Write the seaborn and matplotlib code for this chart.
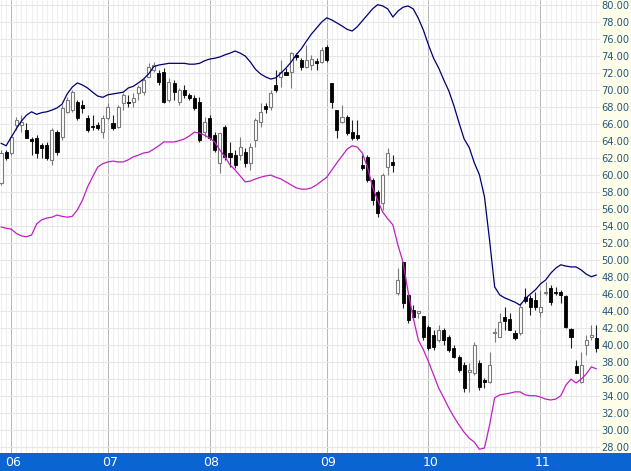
import numpy as np
import pandas as pd
from matplotlib import pyplot as plt
from matplotlib.patches import Rectangle
import matplotlib.transforms as mtransforms
import seaborn as sns

# daily candles, one row per session (open, high, low, close)
opens = [59.02, 62.67, 62.55, 65.85, 65.85, 65.25, 64.2, 64.3, 63.49, 63.49,
         61.7, 65.02, 64.43, 67.37, 67.61, 68.55, 68.2, 66.67, 65.73, 65.84,
         65.02, 66.67, 66.08, 65.61, 68.43, 68.55, 68.55, 69.61, 69.73, 71.49,
         72.31, 71.96, 72.08, 68.78, 70.79, 68.55, 69.96, 69.37, 69.02, 68.55,
         65.02, 66.67, 64.67, 61.37, 65.61, 62.55, 62.31, 62.31, 62.67, 61.37,
         64.08, 66.2, 68.08, 67.96, 70.55, 71.49, 72.08, 72.08, 74.08, 73.49,
         72.67, 72.9, 73.37, 73.26, 75.02, 70.79, 67.61, 66.2, 66.78, 65.02,
         64.67, 61.14, 62.08, 59.37, 57.96, 56.67, 60.9, 61.49, 46.08, 49.73,
         45.84, 44.08, 43.73, 43.37, 42.08, 41.14, 40.55, 41.73, 40.9, 39.61,
         38.55, 37.61, 36.84, 36.67, 37.84, 35.84, 35.61, 41.37, 40.9, 43.26,
         43.02, 41.37, 41.37, 45.61, 45.49, 45.26, 43.84, 46.08, 46.67, 46.2,
         46.2, 45.73, 41.84, 37.49, 35.61, 39.96, 40.9, 40.79]
highs = [62.9, 62.9, 64.67, 66.8, 67.0, 66.1, 64.4, 64.67, 63.73, 63.85,
         65.49, 65.25, 68.2, 69.14, 69.96, 68.78, 68.78, 67.02, 67.02, 66.2,
         67.02, 68.43, 67.02, 68.2, 69.61, 69.37, 69.61, 70.55, 71.37, 73.14,
         73.26, 72.31, 72.55, 71.37, 71.14, 70.2, 70.55, 69.61, 69.37, 69.14,
         66.78, 67.02, 65.02, 64.9, 65.84, 63.85, 62.9, 64.43, 63.14, 63.73,
         66.67, 68.43, 68.43, 69.96, 72.31, 73.49, 72.55, 74.43, 74.31, 73.73,
         75.26, 74.08, 73.73, 75.02, 75.26, 70.79, 67.61, 68.2, 67.02, 66.43,
         66.43, 62.31, 62.31, 59.61, 58.2, 60.2, 63.14, 62.31, 49.02, 49.73,
         46.2, 44.67, 43.96, 43.37, 42.31, 41.73, 42.31, 41.96, 41.14, 39.96,
         38.78, 37.96, 37.84, 40.31, 38.2, 36.08, 39.14, 41.96, 43.73, 44.43,
         43.73, 41.73, 44.9, 46.67, 45.84, 46.2, 46.43, 47.37, 47.02, 46.78,
         46.43, 45.84, 41.96, 38.2, 39.14, 41.14, 42.31, 42.31]
lows = [58.8, 61.7, 62.3, 65.25, 65.0, 64.3, 62.3, 61.96, 61.96, 61.7,
        61.14, 62.3, 64.08, 67.25, 67.37, 66.43, 67.25, 65.02, 65.25, 65.25,
        64.3, 66.43, 65.25, 65.49, 67.61, 67.96, 67.96, 68.78, 69.37, 71.49,
        72.08, 70.55, 68.43, 68.55, 68.78, 68.2, 69.02, 68.78, 67.61, 63.85,
        64.43, 64.08, 62.67, 60.2, 61.73, 60.9, 60.78, 61.73, 60.9, 60.55,
        63.26, 65.61, 67.25, 67.61, 69.73, 70.32, 71.73, 70.2, 73.49, 72.31,
        72.55, 72.31, 72.31, 73.14, 73.26, 67.84, 64.3, 66.08, 64.67, 64.08,
        64.08, 60.55, 59.14, 56.43, 55.02, 55.84, 59.96, 60.31, 45.84, 44.31,
        42.55, 42.9, 43.14, 40.55, 39.37, 39.37, 40.31, 39.96, 39.14, 38.43,
        36.78, 34.43, 34.43, 36.43, 34.67, 34.9, 35.49, 40.31, 40.9, 41.73,
        41.73, 40.55, 41.14, 44.9, 43.49, 44.08, 43.26, 45.84, 44.67, 45.84,
        44.9, 41.96, 39.61, 36.67, 35.49, 38.78, 40.55, 39.14]
closes = [62.55, 61.96, 64.43, 66.43, 66.2, 64.3, 63.96, 62.55, 63.14, 61.96,
          65.25, 62.67, 67.84, 68.78, 69.73, 66.67, 67.84, 65.25, 65.61, 65.49,
          66.67, 67.96, 65.49, 67.96, 69.37, 68.43, 69.02, 70.32, 71.14, 72.67,
          72.9, 70.9, 68.55, 70.9, 69.73, 69.96, 69.37, 69.02, 67.84, 64.08,
          66.2, 64.3, 62.9, 64.9, 62.08, 62.08, 61.14, 63.26, 61.37, 63.26,
          66.43, 67.37, 67.73, 69.61, 69.96, 72.08, 71.73, 74.31, 73.84, 72.67,
          73.49, 73.61, 73.14, 74.67, 73.49, 68.55, 65.25, 66.78, 64.9, 64.3,
          64.3, 60.78, 59.37, 57.02, 55.49, 59.96, 62.55, 61.14, 47.61, 44.9,
          42.9, 43.26, 43.96, 40.9, 39.61, 39.73, 41.73, 40.55, 39.37, 38.55,
          37.02, 34.9, 37.08, 39.96, 35.02, 35.61, 37.61, 41.49, 42.67, 42.78,
          41.73, 40.78, 44.43, 45.14, 44.43, 44.43, 44.43, 46.2, 45.02, 46.08,
          45.84, 42.08, 40.9, 36.67, 37.61, 40.55, 41.14, 39.61]

# envelope bands
upper_band = [63.7, 63.4, 64.4, 65.4, 66.3, 67.0, 67.4, 67.1, 67.3, 67.4,
              67.6, 67.85, 68.3, 69.5, 70.3, 70.8, 70.55, 70.2, 69.7, 69.25,
              69.1, 69.4, 69.5, 69.6, 69.7, 70.2, 70.4, 70.8, 71.25, 71.85,
              72.7, 72.9, 73.0, 73.1, 73.1, 73.1, 73.1, 73.0, 73.0, 73.1,
              73.4, 73.6, 73.7, 73.85, 74.1, 74.3, 74.55, 74.3, 73.95, 73.25,
              72.4, 71.85, 71.5, 71.25, 71.4, 71.95, 72.55, 73.25, 74.1, 74.8,
              75.7, 76.55, 77.25, 77.95, 78.45, 78.2, 77.85, 77.5, 77.1, 76.9,
              77.4, 78.1, 78.8, 79.5, 80.0, 79.85, 79.5, 78.55, 79.25, 79.7,
              79.85, 79.5, 78.4, 77.0, 75.25, 73.7, 72.55, 71.15, 69.85, 68.1,
              66.1, 64.2, 63.2, 61.4, 60.0, 57.4, 52.3, 46.8, 45.85, 45.5,
              45.25, 45.0, 44.65, 45.4, 45.95, 46.45, 47.15, 47.6, 48.4, 49.0,
              49.4, 49.25, 49.15, 49.15, 48.8, 48.3, 48.0, 48.2]
lower_band = [53.85, 53.7, 53.6, 53.1, 52.8, 52.7, 52.9, 54.2, 54.7, 54.9,
              55.0, 55.25, 55.1, 55.0, 55.1, 55.85, 57.0, 58.55, 59.75, 60.9,
              61.3, 61.5, 61.6, 61.5, 61.5, 61.75, 62.1, 62.3, 62.55, 62.65,
              63.0, 63.4, 63.85, 63.85, 63.85, 64.0, 64.2, 64.55, 65.0, 64.9,
              64.65, 64.3, 63.85, 62.9, 62.1, 61.15, 60.55, 59.85, 59.15, 59.25,
              59.5, 59.7, 59.85, 59.95, 59.7, 59.5, 59.15, 58.8, 58.45, 58.3,
              58.3, 58.45, 58.8, 59.25, 59.7, 60.55, 61.4, 62.2, 63.0, 63.4,
              63.25, 62.55, 60.9, 58.55, 57.0, 55.6, 54.8, 54.1, 51.7, 49.7,
              46.2, 43.15, 40.55, 39.4, 38.0, 36.45, 34.9, 33.75, 32.55, 31.5,
              30.55, 29.7, 29.0, 28.55, 27.7, 27.85, 30.55, 33.75, 34.1, 34.2,
              34.3, 34.45, 34.45, 34.1, 34.0, 34.0, 33.85, 33.6, 33.5, 33.6,
              34.0, 35.25, 35.95, 35.5, 35.95, 36.55, 37.4, 37.15]

month_labels = ['06', '07', '08', '09', '10', '11']
month_start = [2, 21, 41, 64, 84, 106]

price_ticks = np.arange(28, 81, 2)

df = pd.DataFrame({'open': opens, 'high': highs, 'low': lows,
                   'close': closes, 'upper': upper_band, 'lower': lower_band})
df['day'] = np.arange(len(df))

sns.set_style('white')
plt.rcParams['font.family'] = ['DejaVu Sans']

W, H = 631, 471
fig = plt.figure(figsize=(W / 100, H / 100), dpi=100)
fig.patch.set_facecolor('white')
fig.patches.append(Rectangle((0, 0), 1, 18 / H, transform=fig.transFigure,
                             facecolor='#0a64d2', edgecolor='none', zorder=-5))
fig.patches.append(Rectangle((600 / W, 18 / H), 31 / W, 453 / H,
                             transform=fig.transFigure,
                             facecolor='#fdfde9', edgecolor='none', zorder=-5))

ax = fig.add_axes([0, 18 / H, 600 / W, 453 / H])
ax.set_facecolor('white')
for s in ax.spines.values():
    s.set_visible(False)

ax.set_xlim(-0.2, 117.7)
ax.set_ylim(27.26, 80.55)

# grid
ax.set_xticks(month_start)
ax.set_xticks(df['day'], minor=True)
ax.set_yticks(price_ticks)
ax.grid(which='minor', axis='x', color='#efefef', lw=0.75, zorder=0)
ax.grid(which='major', axis='x', color='#b8b8b8', lw=0.75, zorder=0)
ax.grid(which='major', axis='y', color='#e6e6e6', lw=0.75, zorder=0)
ax.set_axisbelow(True)

ax.tick_params(axis='x', which='both', length=0, labelbottom=False)
ax.yaxis.tick_right()
ax.tick_params(axis='y', length=0, pad=1, labelsize=7.1,
               labelcolor='#23577f')
ax.set_yticklabels(['%.2f' % v for v in price_ticks])

# candles
up = df['close'] >= df['open']
body_w = 0.6
for is_up, wick_c in [(True, '#7a7a7a'), (False, '#202020')]:
    sub = df[up == is_up]
    ax.vlines(sub['day'], sub['low'], sub['high'], color=wick_c, lw=0.8,
              zorder=2)
    bottom = np.minimum(sub['open'], sub['close'])
    height = np.maximum(np.abs(sub['close'] - sub['open']), 0.15)
    if is_up:
        ax.bar(sub['day'], height, bottom=bottom, width=body_w,
               facecolor='white', edgecolor='#7a7a7a', lw=0.8, zorder=3)
    else:
        ax.bar(sub['day'], height, bottom=bottom, width=body_w,
               facecolor='black', edgecolor='black', lw=0.6, zorder=3)

# bands
sns.lineplot(data=df, x='day', y='upper', color='#000070', lw=0.9, ax=ax,
             zorder=4)
sns.lineplot(data=df, x='day', y='lower', color='#c020c0', lw=0.9, ax=ax,
             zorder=4)
ax.set_xlabel('')
ax.set_ylabel('')

# month labels in the blue strip
trans = mtransforms.blended_transform_factory(ax.transData, ax.transAxes)
for d, lab in zip(month_start, month_labels):
    ax.text(d + 0.35, -9.5 / 453, lab, transform=trans, color='white',
            fontsize=9, ha='center', va='center', clip_on=False)

fig.savefig('out.png', dpi=100, facecolor=fig.get_facecolor())
